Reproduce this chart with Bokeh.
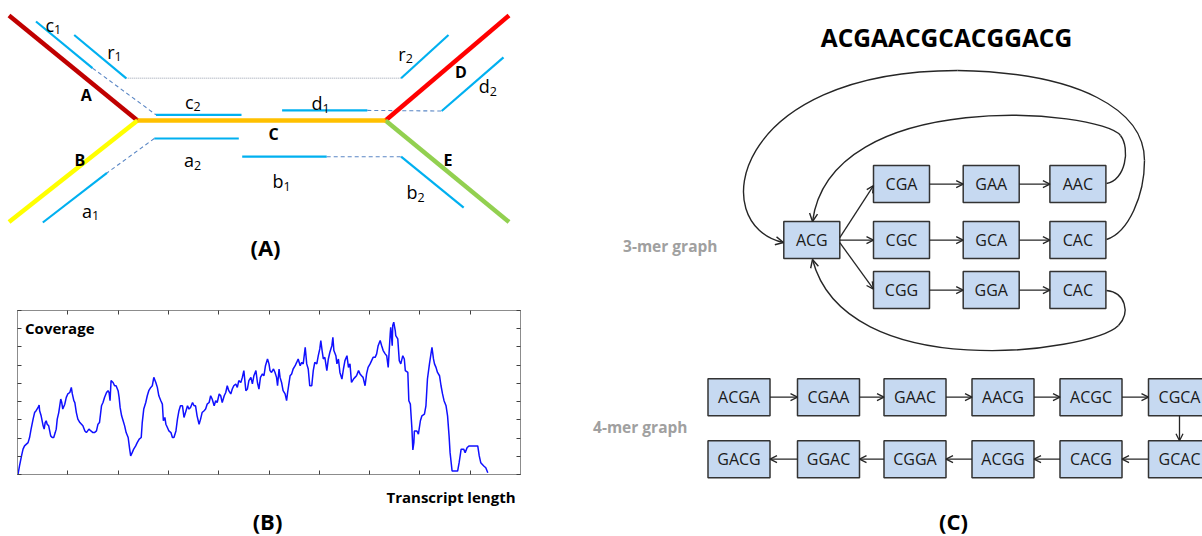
from bokeh.plotting import figure
from bokeh.models import (Range1d, Arrow, OpenHead, LinearAxis, SingleIntervalTicker,
                          ColumnDataSource, CustomJSTickFormatter)
from bokeh.layouts import row, column
from bokeh.embed import file_html
from bokeh.resources import INLINE
from bokeh.core.properties import value

FONT = "Open Sans"
INK = "#262626"

# ---------------- Panel A: splice graph with reads ----------------
branch_names = ["A", "B", "D", "E", "C"]
branch_x0 = [8.5, 8.5, 385, 385, 137]
branch_y0 = [15, 221.5, 120, 120, 120]
branch_x1 = [137, 137, 508.5, 508.5, 385]
branch_y1 = [120, 120, 15, 221.5, 120]
branch_colors = ["#C00000", "#FFFF00", "#FF0000", "#92D050", "#FFC000"]

read_names = ["c1", "c2", "r1", "r2", "d1", "d2", "a2", "a1", "b1", "b2"]
read_x0 = [35.5, 155.5, 73.7, 400.6, 281.6, 441.2, 153.8, 106.5, 241.7, 400.6]
read_y0 = [21, 114.3, 34.5, 77.8, 109.9, 110.5, 138, 172.4, 156.2, 156.2]
read_x1 = [92, 241, 125.8, 448, 366.8, 503, 238.3, 42.3, 326.2, 463.2]
read_y1 = [67.6, 114.3, 77.8, 34.5, 109.9, 56.8, 138, 222, 156.2, 207.2]

pair_x0 = [92, 366.8, 153.8, 326.2]
pair_y0 = [67.6, 109.9, 138, 156.2]
pair_x1 = [155.5, 441.2, 106.5, 400.6]
pair_y1 = [114.3, 110.5, 172.4, 156.2]

span_x0 = [125.8]
span_y0 = [77.8]
span_x1 = [400.6]
span_y1 = [77.8]

bold_labels = ["A", "B", "C", "D", "E"]
bold_x = [85.7, 79.4, 273.1, 460.3, 447.6]
bold_y = [94.3, 159.2, 133.3, 71.5, 159.2]

read_letters = ["c", "r", "r", "c", "d", "d", "a", "b", "b", "a"]
read_subs = ["1", "1", "2", "2", "1", "2", "2", "1", "2", "1"]
read_jx = [53.6, 114, 405.2, 193, 322, 489.2, 193.6, 283, 416.9, 91.6]
read_ly = [24.3, 51.4, 53.2, 101.4, 102.6, 85.7, 159.7, 180.9, 191.5, 210.3]

# ---------------- Panel B: coverage profile ----------------
cov_pos = [
    1, 4, 8, 11, 14, 21, 24, 27, 31, 34, 37, 41, 43, 44, 47, 51, 53, 55, 57, 59,
    62, 64, 66, 69, 72, 75, 77, 79, 82, 84, 86, 88, 90, 94, 97, 100, 104, 107, 109, 112,
    114, 117, 120, 124, 130, 134, 137, 142, 146, 150, 153, 157, 160, 163, 167, 170, 173, 177, 180, 182,
    184, 186, 190, 193, 196, 200, 202, 204, 207, 210, 213, 216, 220, 223, 225, 228, 231, 235, 238, 242,
    246, 248, 251, 255, 258, 261, 265, 268, 271, 275, 278, 281, 285, 288, 290, 293, 295, 298, 301, 305,
    308, 311, 315, 318, 321, 324, 328, 331, 334, 338, 341, 344, 348, 351, 354, 357, 361, 364, 367, 371,
    374, 377, 381, 384, 387, 391, 394, 397, 401, 404, 407, 411, 414, 417, 420, 424, 427, 430, 434, 437,
    440, 444, 447, 450, 454, 457, 460, 464, 467, 470, 474, 477, 480, 483, 487, 490, 493, 497, 500, 502,
    505, 509, 512, 515, 517, 520, 522, 525, 528, 532, 535, 537, 540, 542, 545, 548, 552, 555, 558, 562,
    565, 568, 572, 575, 578, 581, 585, 588, 591, 595, 598, 601, 603, 606, 608, 611, 615, 618, 621, 625,
    627, 629, 633, 635, 638, 641, 645, 648, 651, 655, 658, 661, 664, 668, 671, 674, 678, 681, 684, 687,
    691, 694, 697, 701, 704, 707, 711, 714, 717, 721, 724, 727, 731, 734, 737, 741, 742, 745, 746, 748,
    751, 752, 756, 759, 762, 766, 769, 771, 776, 778, 781, 784, 786, 788, 789, 794, 797, 801, 804, 809,
    812, 815, 819, 822, 824, 827, 829, 832, 835, 839, 842, 845, 848, 852, 855, 858, 860, 864, 875, 878,
    882, 887, 890, 894, 898, 915, 918, 921, 927, 931, 935,
]
cov_depth = [
    0.1, 4.7, 10.2, 13.9, 15.7, 17.5, 20.3, 24.9, 30.4, 34.0, 35.0, 36.8, 38.1, 35.0, 32.2, 26.7, 24.9, 28.5, 29.5, 27.6,
    26.7, 23.9, 21.2, 20.3, 20.3, 23.0, 24.9, 30.4, 34.0, 37.7, 41.4, 39.5, 35.9, 38.6, 42.3, 44.2, 45.0, 47.8, 44.2, 40.5,
    39.5, 34.0, 30.4, 28.5, 26.7, 23.9, 23.0, 24.9, 23.9, 23.0, 23.0, 23.9, 27.6, 28.5, 37.7, 39.5, 42.3, 45.0, 46.0, 45.0,
    40.5, 51.5, 50.5, 48.7, 48.7, 46.0, 42.3, 36.8, 32.2, 29.5, 26.7, 23.0, 20.3, 13.9, 10.2, 12.0, 13.9, 15.7, 17.5, 19.4,
    20.3, 28.5, 35.9, 39.5, 43.2, 46.0, 47.8, 48.7, 53.3, 50.5, 47.8, 43.2, 40.5, 38.6, 29.5, 31.3, 27.6, 25.8, 23.9, 23.0,
    20.3, 20.3, 23.9, 30.4, 35.0, 37.7, 37.7, 31.3, 34.0, 37.7, 35.9, 36.8, 39.5, 37.7, 37.7, 32.2, 27.6, 30.4, 34.0, 35.0,
    35.9, 38.6, 39.5, 43.2, 41.4, 37.7, 40.5, 39.5, 44.2, 43.2, 39.5, 43.2, 45.0, 48.7, 46.0, 44.2, 46.9, 48.7, 49.7, 47.8,
    51.5, 50.5, 53.3, 57.0, 46.0, 46.9, 51.5, 53.3, 49.7, 54.2, 57.0, 50.5, 46.9, 53.3, 55.2, 54.2, 59.7, 63.4, 60.7, 57.0,
    56.0, 57.9, 56.0, 53.3, 48.7, 57.9, 53.3, 50.5, 46.0, 44.2, 40.5, 45.0, 50.5, 54.2, 55.2, 57.9, 59.7, 61.5, 63.4, 59.7,
    61.5, 60.7, 69.8, 60.7, 57.9, 48.7, 48.7, 57.0, 61.5, 60.7, 65.2, 68.9, 73.5, 67.1, 63.4, 64.3, 57.0, 63.4, 67.1, 70.7,
    75.3, 68.0, 65.2, 60.7, 63.4, 56.0, 52.4, 57.9, 62.5, 65.2, 58.8, 60.7, 50.5, 52.4, 53.3, 54.2, 57.0, 55.2, 54.2, 53.3,
    48.7, 55.2, 58.8, 60.7, 62.5, 64.3, 64.3, 66.2, 70.7, 73.5, 70.7, 68.0, 66.2, 65.2, 58.8, 77.2, 80.8, 70.7, 81.8, 83.6,
    79.0, 76.2, 74.4, 62.5, 60.7, 65.2, 63.4, 57.0, 56.0, 40.5, 38.6, 25.8, 13.5, 17.5, 23.9, 23.9, 22.1, 29.5, 32.2, 33.1,
    37.7, 52.4, 60.7, 66.2, 69.8, 63.4, 60.7, 58.8, 56.0, 54.2, 48.7, 44.2, 40.5, 37.7, 32.2, 21.2, 12.0, 1.9, 1.9, 6.5,
    13.9, 13.9, 12.0, 14.8, 15.7, 15.7, 10.2, 6.5, 4.7, 3.7, 1.0,
]
cov_x_ticks = 100
cov_y_ticks = 10

# ---------------- Panel C: de Bruijn graphs ----------------
sequence = "ACGAACGCACGGACG"
kmer3_labels = ["ACG", "CGA", "GAA", "AAC", "CGC", "GCA", "CAC", "CGG", "GGA", "CAC"]
kmer3_x = [811.3, 901, 990.7, 1077.4, 901, 990.7, 1077.4, 901, 990.7, 1077.4]
kmer3_y = [239.6, 183.6, 183.6, 183.6, 239.6, 239.6, 239.6, 289.6, 289.6, 289.6]
kmer3_edges = [(0, 1), (0, 4), (0, 7), (1, 2), (2, 3), (4, 5), (5, 6), (7, 8), (8, 9)]
kmer3_w, kmer3_h = 56, 37

# back-edges to ACG drawn as cubic curves (start, control1, control2, end)
loop_x0 = [1106, 1144, 957, 1106, 1120, 1106, 1118]
loop_y0 = [239, 160, 70, 183, 135, 290, 325]
loop_cx0 = [1128, 1144, 730, 1125, 1100, 1125, 1090]
loop_cy0 = [232, 110, 70, 180, 109, 292, 352]
loop_cx1 = [1144, 1080, 705, 1130, 830, 1130, 845]
loop_cy1 = [195, 72, 225, 148, 85, 312, 385]
loop_x1 = [1144, 957, 783, 1120, 812, 1118, 812]
loop_y1 = [160, 70, 242, 135, 221, 325, 259]
loop_arrow_ends = [2, 4, 6]

kmer4_row1 = ["ACGA", "CGAA", "GAAC", "AACG", "ACGC", "CGCA"]
kmer4_row2 = ["GACG", "GGAC", "CGGA", "ACGG", "CACG", "GCAC"]
kmer4_x = [738.5, 828, 914.5, 1002.5, 1090.5, 1179]
kmer4_y = [396.7, 458.7]
kmer4_w, kmer4_h = 62, 37


def blank(p):
    p.grid.grid_line_color = None
    p.outline_line_color = None
    p.background_fill_color = "white"
    p.border_fill_color = "white"


# ======================================================================
# Figure A (page pixels 0..530 x 0..290)
pA = figure(width=530, height=290, x_range=Range1d(0, 530), y_range=Range1d(290, 0),
            output_backend="svg", toolbar_location=None, min_border=0,
            x_axis_location=None, y_axis_location=None)
blank(pA)

pA.segment(pair_x0, pair_y0, pair_x1, pair_y1, line_color="#5B87C5", line_width=1.1,
           line_dash="4 3")
pA.segment(span_x0, span_y0, span_x1, span_y1, line_color="#B8BEC8", line_width=1.5,
           line_dash="1 1")
pA.segment(branch_x0, branch_y0, branch_x1, branch_y1, line_color=branch_colors,
           line_width=4.5)
pA.segment(read_x0, read_y0, read_x1, read_y1, line_color="#00B0F0", line_width=2.2)

pA.text(bold_x, bold_y, text=bold_labels, text_font=value(FONT), text_font_style="bold",
        text_font_size="16px", text_align="center", text_baseline="middle", text_color="black")
pA.text(read_jx, read_ly, text=read_letters, text_font=value(FONT), text_font_size="18px",
        text_align="right", text_baseline="middle", text_color="black")
pA.text(read_jx, [v + 5 for v in read_ly], text=read_subs, text_font=value(FONT),
        text_font_size="12.5px", text_align="left", text_baseline="middle", text_color="black")
pA.text([265], [246], text=["(A)"], text_font=value(FONT), text_font_style="bold",
        text_font_size="22px", text_align="center", text_baseline="middle", text_color="black")

# ======================================================================
# Figure B (page pixels 0..530 x 290..480), frame 17..520 x 310..474
pB = figure(width=530, height=190, x_range=Range1d(0, 1000), y_range=Range1d(0, 90),
            output_backend="svg", toolbar_location=None,
            min_border_left=17, min_border_right=10, min_border_top=20, min_border_bottom=6,
            x_axis_location=None, y_axis_location=None)
pB.grid.grid_line_color = None
pB.outline_line_color = "#8C8C8C"
pB.border_fill_color = "white"
for loc, interval in (("below", cov_x_ticks), ("above", cov_x_ticks),
                      ("left", cov_y_ticks), ("right", cov_y_ticks)):
    ax = LinearAxis(ticker=SingleIntervalTicker(interval=interval, num_minor_ticks=0),
                    formatter=CustomJSTickFormatter(code="return ''"))
    ax.axis_line_color = "#8C8C8C"
    ax.major_tick_in = 4
    ax.major_tick_out = 0
    ax.major_tick_line_color = "#404040"
    ax.minor_tick_line_color = None
    ax.major_label_text_font_size = "0px"
    ax.major_label_standoff = 0
    pB.add_layout(ax, loc)

pB.line(cov_pos, cov_depth, line_color="#1010FF", line_width=1.5)
pB.text([15], [80.6], text=["Coverage"], text_font=value(FONT), text_font_style="bold",
        text_font_size="15px", text_align="left", text_baseline="middle", text_color="black")

# Figure B2: captions under the coverage plot (page pixels 480..536)
pB2 = figure(width=530, height=56, x_range=Range1d(17, 520), y_range=Range1d(536, 480),
             output_backend="svg", toolbar_location=None,
             min_border_left=17, min_border_right=10, min_border_top=0, min_border_bottom=0,
             x_axis_location=None, y_axis_location=None)
blank(pB2)
pB2.text([515], [496], text=["Transcript length"], text_font=value(FONT),
         text_font_style="bold", text_font_size="15px", text_align="right",
         text_baseline="middle", text_color="black")
pB2.text([267], [520], text=["(B)"], text_font=value(FONT), text_font_style="bold",
         text_font_size="22px", text_align="center", text_baseline="middle", text_color="black")

# ======================================================================
# Figure C (page pixels 530..1202 x 0..536)
pC = figure(width=672, height=536, x_range=Range1d(530, 1202), y_range=Range1d(536, 0),
            output_backend="svg", toolbar_location=None, min_border=0,
            x_axis_location=None, y_axis_location=None)
blank(pC)

pC.text([946], [37], text=[sequence], text_font=value(FONT), text_font_style="bold",
        text_font_size="24.5px", text_align="center", text_baseline="middle", text_color="black")
pC.text([717, 687], [245, 426], text=["3-mer graph", "4-mer graph"], text_font=value(FONT),
        text_font_style="bold", text_font_size="15.5px", text_align="right",
        text_baseline="middle", text_color="#A0A0A0")
pC.text([953], [520], text=["(C)"], text_font=value(FONT), text_font_style="bold",
        text_font_size="22px", text_align="center", text_baseline="middle", text_color="black")

# curves back to ACG
pC.bezier(x0=loop_x0, y0=loop_y0, x1=loop_x1, y1=loop_y1, cx0=loop_cx0, cy0=loop_cy0,
          cx1=loop_cx1, cy1=loop_cy1, line_color=INK, line_width=1.4)
pC.add_layout(Arrow(end=OpenHead(size=8, line_color=INK, line_width=1.4),
                    source=ColumnDataSource(dict(
                        x0=[loop_cx1[i] for i in loop_arrow_ends],
                        y0=[loop_cy1[i] for i in loop_arrow_ends],
                        x1=[loop_x1[i] for i in loop_arrow_ends],
                        y1=[loop_y1[i] for i in loop_arrow_ends])),
                    x_start="x0", y_start="y0", x_end="x1", y_end="y1", line_alpha=0))

# 3-mer edges
e_x0, e_y0, e_x1, e_y1 = [], [], [], []
for a, b in kmer3_edges:
    dy = (kmer3_y[b] - kmer3_y[a])
    e_x0.append(kmer3_x[a] + kmer3_w / 2)
    e_y0.append(kmer3_y[a] + (2.5 if dy > 0 else (-2.5 if dy < 0 else 0)))
    e_x1.append(kmer3_x[b] - kmer3_w / 2)
    e_y1.append(kmer3_y[b] + (0 if dy == 0 else (-1 if dy > 0 else 1.5)))

# 4-mer edges
for i in range(len(kmer4_x) - 1):
    e_x0.append(kmer4_x[i] + kmer4_w / 2); e_y0.append(kmer4_y[0])
    e_x1.append(kmer4_x[i + 1] - kmer4_w / 2); e_y1.append(kmer4_y[0])
for i in range(len(kmer4_x) - 1, 0, -1):
    e_x0.append(kmer4_x[i] - kmer4_w / 2); e_y0.append(kmer4_y[1])
    e_x1.append(kmer4_x[i - 1] + kmer4_w / 2); e_y1.append(kmer4_y[1])
e_x0.append(kmer4_x[-1]); e_y0.append(kmer4_y[0] + kmer4_h / 2)
e_x1.append(kmer4_x[-1]); e_y1.append(kmer4_y[1] - kmer4_h / 2)

pC.add_layout(Arrow(end=OpenHead(size=7, line_color=INK, line_width=1.3),
                    source=ColumnDataSource(dict(x0=e_x0, y0=e_y0, x1=e_x1, y1=e_y1)),
                    x_start="x0", y_start="y0", x_end="x1", y_end="y1",
                    line_color=INK, line_width=1.3))

# boxes
box_x = kmer3_x + kmer4_x + kmer4_x
box_y = kmer3_y + [kmer4_y[0]] * 6 + [kmer4_y[1]] * 6
box_w = [kmer3_w] * len(kmer3_x) + [kmer4_w] * 12
box_t = kmer3_labels + kmer4_row1 + kmer4_row2
pC.rect(box_x, box_y, width=box_w, height=kmer3_h, fill_color="#C6D9F1",
        line_color="#333333", line_width=1.5)
pC.text(box_x, box_y, text=box_t, text_font=value(FONT), text_font_size="16px",
        text_align="center", text_baseline="middle", text_color="#1A1A1A")

layout = row(column(row(pA), row(pB), row(pB2)), pC)
open("out.html", "w").write(file_html(layout, INLINE))
